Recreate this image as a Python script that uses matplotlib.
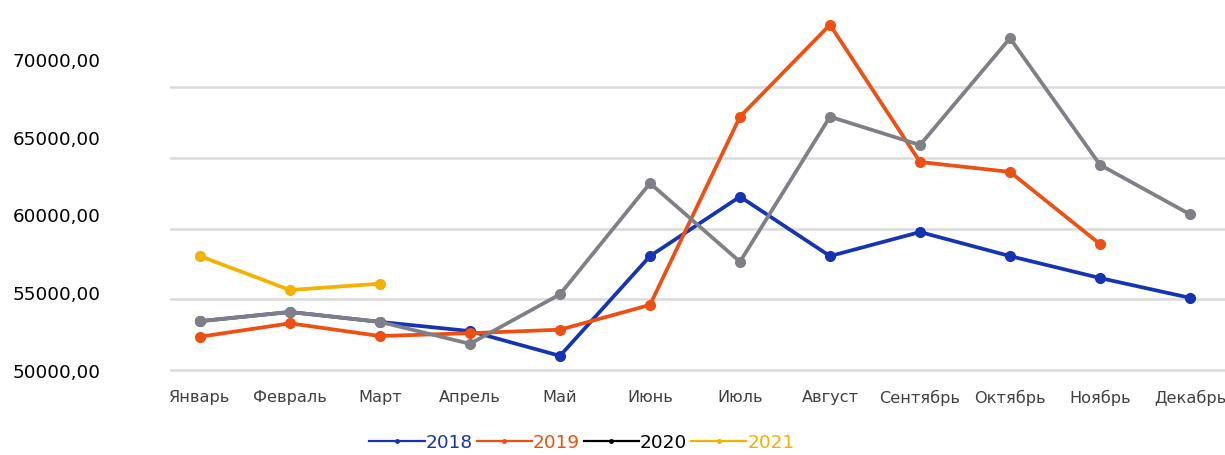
import matplotlib
matplotlib.use("Agg")
import matplotlib.pyplot as plt
from matplotlib.lines import Line2D
from matplotlib.transforms import ScaledTranslation
import numpy as np

months = ["Январь", "Февраль", "Март", "Апрель", "Май", "Июнь",
          "Июль", "Август", "Сентябрь", "Октябрь", "Ноябрь", "Декабрь"]

sales_2018 = [53450, 54100, 53400, 52750, 51000, 58050,
              62250, 58050, 59750, 58050, 56500, 55100]
sales_2019 = [52350, 53300, 52400, 52600, 52850, 54600,
              67900, 74400, 64700, 64000, 58900]
sales_2020 = [53450, 54100, 53400, 51850, 55350, 63200,
              57650, 67900, 65900, 73450, 64500, 61000]
sales_2021 = [58050, 55650, 56100]

y_ticks = [50000, 55000, 60000, 65000, 70000]
years = ["2018", "2019", "2020", "2021"]

line_colors = ["#1434b4", "#ee4f12", "#7f7f88", "#f3b100"]
legend_colors = ["#1434b4", "#ee4f12", "#000000", "#f3b100"]

plt.rcParams["font.family"] = ["DejaVu Sans"]

fig = plt.figure(figsize=(12.25, 4.56), dpi=100)
# axes area: from the left gridline start to the right edge, bottom a bit below 50000
px_per_unit = 70.75 / 5000
y_low = 49850
bottom_px = 371 + (50000 - y_low) * px_per_unit
ax = fig.add_axes([170 / 1225, (456 - bottom_px) / 456, 1 - 170 / 1225, bottom_px / 456])

series = [sales_2018, sales_2019, sales_2020, sales_2021]
for vals, col in zip(series, line_colors):
    x = np.arange(len(vals))
    ax.plot(x, vals, color=col, lw=2.7, marker="o", ms=7,
            solid_joinstyle="round", zorder=3)

ax.set_xlim(-1 / 3, 11 + 35 / 90)
ax.set_ylim(y_low, 50000 + 371 / px_per_unit)

ax.set_yticks(y_ticks)
ax.set_yticklabels([f"{v:.2f}".replace(".", ",") for v in y_ticks])
ax.set_xticks(np.arange(len(months)))
ax.set_xticklabels(months)

ax.grid(axis="y", color="#dadada", lw=1.8, zorder=0)
ax.grid(axis="x", visible=False)
for s in ax.spines.values():
    s.set_visible(False)
ax.tick_params(axis="both", length=0)
ax.tick_params(axis="y", pad=50, labelsize=13.2, labelcolor="#000000")
ax.tick_params(axis="x", pad=12, labelsize=11.6, labelcolor="#404040")

# spread the value labels slightly apart from their gridlines
for tick, v in zip(ax.yaxis.get_major_ticks(), y_ticks):
    dy = (v - 50000) / 5000 * 7.0 / 100
    tick.label1.set_transform(tick.label1.get_transform()
                              + ScaledTranslation(0, dy, fig.dpi_scale_trans))

handles = [Line2D([0], [0], color=c, lw=1.6, marker="o", ms=2.5)
           for c in legend_colors]
fig.legend(handles, years, loc="center", bbox_to_anchor=(582 / 1225, 1 - 443 / 456),
           ncol=4, frameon=False, fontsize=13.3, labelcolor=legend_colors,
           handlelength=3.0, handletextpad=0.05, columnspacing=0.2)

fig.savefig("out.png", dpi=100)
